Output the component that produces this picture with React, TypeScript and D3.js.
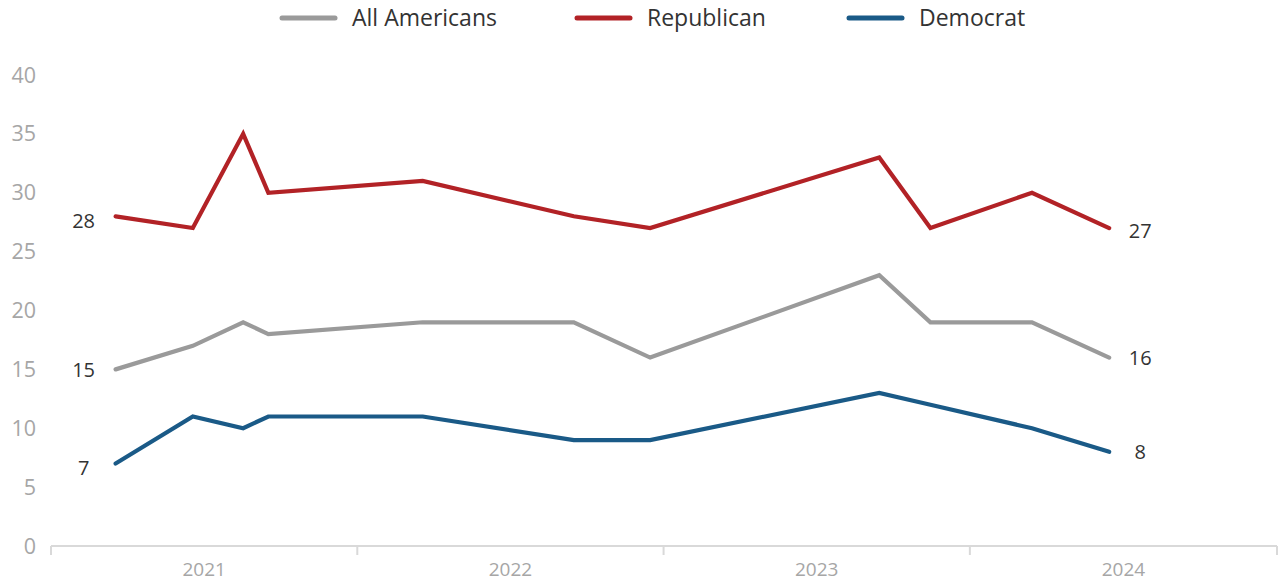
import React from "react";
import * as d3 from "d3";

const dates = ["2021-03-19", "2021-06-19", "2021-08-18", "2021-09-17", "2022-03-20", "2022-09-16", "2022-12-16", "2023-09-15", "2023-11-15", "2024-03-15", "2024-06-15"];
const allAmericans = [15, 17, 19, 18, 19, 19, 16, 23, 19, 19, 16];
const republican = [28, 27, 35, 30, 31, 28, 27, 33, 27, 30, 27];
const democrat = [7, 11, 10, 11, 11, 9, 9, 13, 12, 10, 8];
const yTicks = [0, 5, 10, 15, 20, 25, 30, 35, 40];
const years = [2021, 2022, 2023, 2024];

const seriesList = [
  { name: "All Americans", values: allAmericans, color: "#9a9a9a", firstDy: 1, lastDy: 0 },
  { name: "Republican", values: republican, color: "#b22226", firstDy: 5, lastDy: 3 },
  { name: "Democrat", values: democrat, color: "#1a5a87", firstDy: 4, lastDy: 0 },
];

const W = 1281;
const H = 582;
const FONT = "'Open Sans', 'Noto Sans', sans-serif";

export default function App() {
  const parse = d3.timeParse("%Y-%m-%d");
  const x = d3
    .scaleTime()
    .domain([new Date(2021, 0, 1), new Date(2025, 0, 1)])
    .range([51, 1277]);
  const y = d3.scaleLinear().domain([0, 40]).range([546, 75]);
  const pts = dates.map((d) => parse(d) as Date);

  const line = d3
    .line<number>()
    .x((_, i) => x(pts[i]))
    .y((v) => y(v));

  const legendX = [282, 577, 849];

  return (
    <svg width={W} height={H} style={{ position: "absolute", left: 0, top: 0 }} fontFamily={FONT}>
      {/* legend */}
      {seriesList.map((s, i) => (
        <g key={s.name}>
          <line x1={legendX[i]} x2={legendX[i] + 53} y1={18} y2={18} stroke={s.color} strokeWidth={5} strokeLinecap="round" />
          <text x={legendX[i] + 70} y={18} dy="0.35em" fontSize={23} fill="#333">
            {s.name}
          </text>
        </g>
      ))}
      {/* y tick labels */}
      {yTicks.map((t) => (
        <text key={t} x={36} y={y(t)} dy="0.35em" textAnchor="end" fontSize={21.5} fill="#a6a6a6">
          {t}
        </text>
      ))}
      {/* x axis */}
      <line x1={51} x2={1277} y1={546} y2={546} stroke="#d9d9d9" strokeWidth={2} />
      {[...years, 2025].map((yr) => (
        <line key={yr} x1={x(new Date(yr, 0, 1))} x2={x(new Date(yr, 0, 1))} y1={546} y2={555} stroke="#d9d9d9" strokeWidth={2} />
      ))}
      {years.map((yr) => (
        <text key={yr} x={(x(new Date(yr, 0, 1)) + x(new Date(yr + 1, 0, 1))) / 2} y={569} dy="0.35em" textAnchor="middle" fontSize={19} fill="#a6a6a6">
          {yr}
        </text>
      ))}
      {/* lines */}
      {seriesList.map((s) => (
        <path key={s.name} d={line(s.values) || ""} fill="none" stroke={s.color} strokeWidth={4.2} strokeLinecap="round" strokeLinejoin="miter" />
      ))}
      {/* end labels */}
      {seriesList.map((s) => {
        const first = s.values[0];
        const last = s.values[s.values.length - 1];
        return (
          <g key={s.name + "lbl"}>
            <text x={x(pts[0]) - 32} y={y(first) + s.firstDy} dy="0.35em" textAnchor="middle" fontSize={20} fill="#333">
              {first}
            </text>
            <text x={x(pts[pts.length - 1]) + 31} y={y(last) + s.lastDy} dy="0.35em" textAnchor="middle" fontSize={20} fill="#333">
              {last}
            </text>
          </g>
        );
      })}
    </svg>
  );
}
